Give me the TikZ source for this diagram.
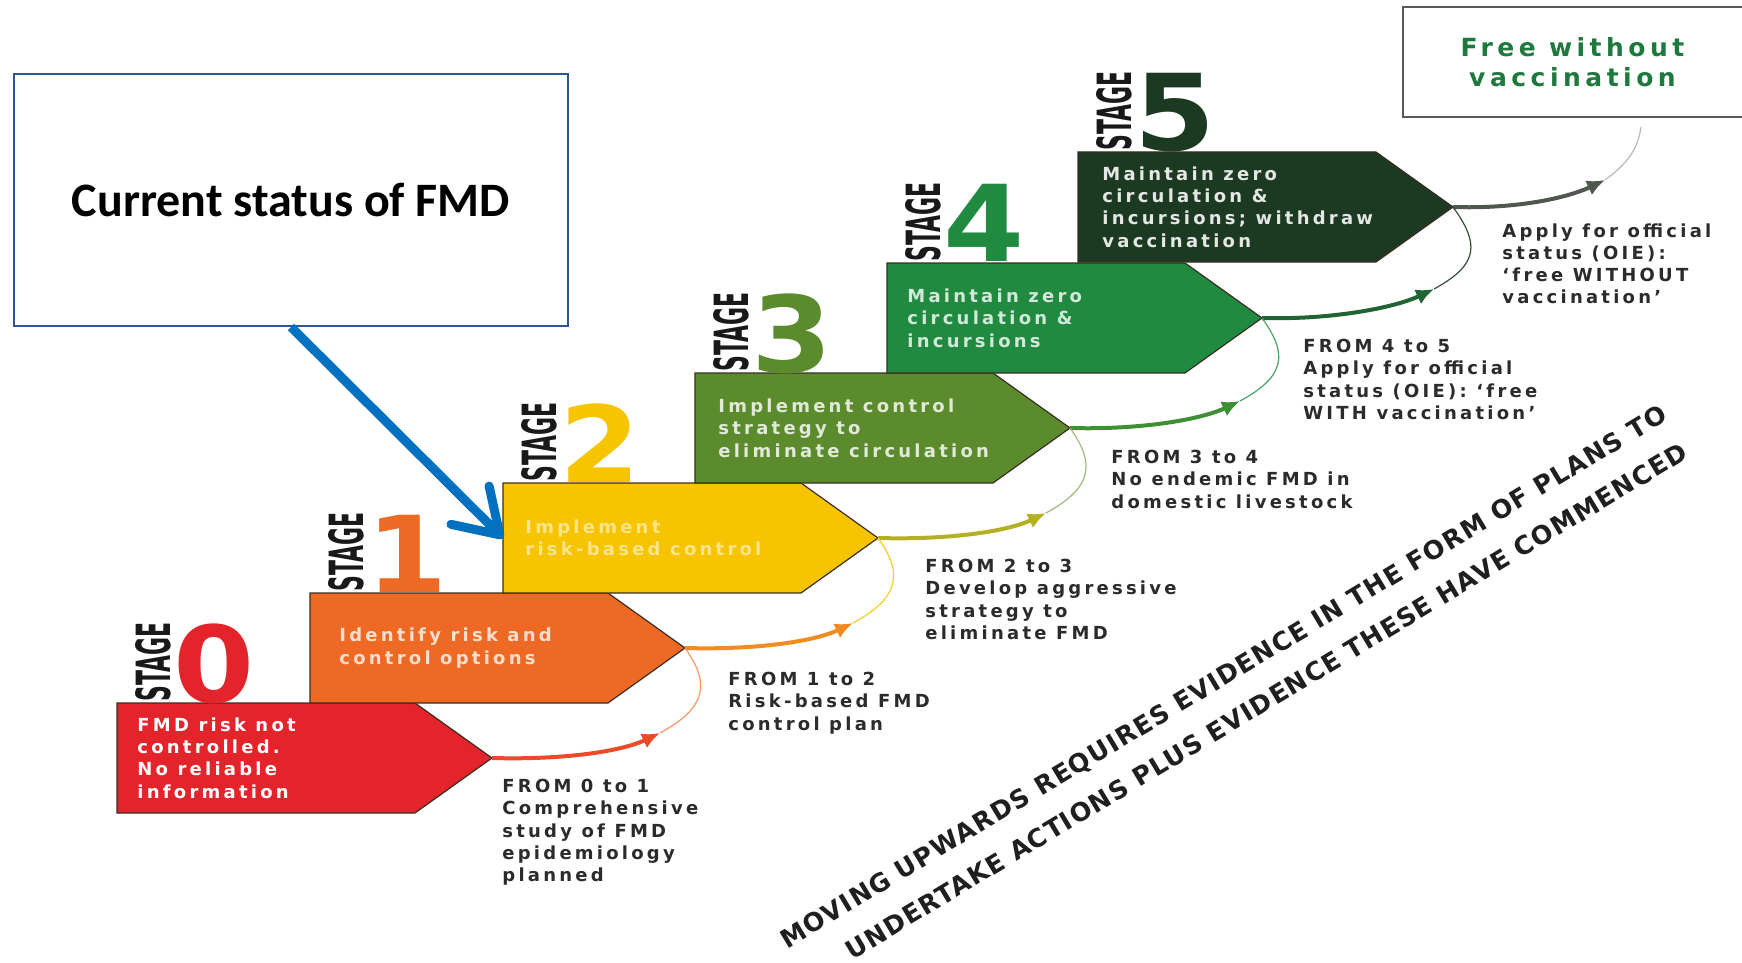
\documentclass[tikz,border=0pt]{standalone}
\usepackage{fontspec}
\usepackage{graphicx}
\setmainfont{DejaVu Sans}
\newfontfamily\stepfont[LetterSpace=18]{DejaVu Sans}
\newfontfamily\movefont[LetterSpace=5]{DejaVu Sans}
\newfontfamily\calibrifont{Carlito}
\usepackage{tikz}
\usetikzlibrary{arrows.meta,calc}
\definecolor{stzero}{HTML}{E3252B}
\definecolor{stone}{HTML}{EE6A24}
\definecolor{sttwo}{HTML}{F6C400}
\definecolor{stthree}{HTML}{5B8B2C}
\definecolor{stfour}{HTML}{1F8A40}
\definecolor{stfive}{HTML}{1C3A21}
\definecolor{stepline}{HTML}{3A2E22}
\definecolor{statusblue}{HTML}{2F5597}
\definecolor{arrowblue}{HTML}{0070C0}
\definecolor{freegreen}{HTML}{1E7A3C}
\definecolor{fromgray}{HTML}{2B2B2B}
\definecolor{flowa}{HTML}{EA4A28}
\definecolor{flowb}{HTML}{F08C20}
\definecolor{flowc}{HTML}{B4B024}
\definecolor{flowd}{HTML}{3F8F35}
\definecolor{flowe}{HTML}{1F6432}
\definecolor{flowf}{HTML}{4E584C}
\newcommand{\stagestep}[3]{%
  \filldraw[fill=#3,draw=stepline,line width=0.6pt] (#1) -- ++(298,0) -- ++(77,55) -- ++(-77,55) -- ++(-298,0) -- cycle;
  \coordinate (#2) at ($(#1)+(375,55)$);}

\begin{document}
\begin{tikzpicture}[x=0.5pt,y=-0.5pt,
  steptext/.style={anchor=west,align=left,inner sep=0pt,font=\stepfont\bfseries\fontsize{9}{11.15}\selectfont},
  fromtext/.style={anchor=north west,align=left,inner sep=0pt,text=fromgray,font=\stepfont\bfseries\fontsize{9}{11.1}\selectfont},
  stagetag/.style={rotate=90,anchor=south west,inner sep=0pt,text=black!90,font=\bfseries},
  stagenum/.style={anchor=base west,inner sep=0pt,font=\bfseries\fontsize{53}{53}\selectfont},
  stepflow/.style={line width=2pt,-{Latex[length=9pt,width=8pt]}},
  thinflow/.style={line width=0.6pt},
  movetext/.style={rotate=31,inner sep=0pt,text=black!88,font=\movefont\bfseries\fontsize{12.7}{15}\selectfont},
  statusbox/.style={draw=statusblue,line width=1pt,minimum width=277pt,minimum height=126pt,font=\calibrifont\bfseries\fontsize{24}{28}\selectfont},
  freebox/.style={minimum width=169.5pt,minimum height=55pt,inner sep=0pt,align=center,text=freegreen,font=\stepfont\bfseries\fontsize{12.5}{15}\selectfont},
  bluearrow/.style={draw=arrowblue,line width=4.5pt,-{Straight Barb[length=21pt,width=27pt,round]}}]
\useasboundingbox (0,0) rectangle (1742,963);
\fill[white] (0,0) rectangle (1742,963);

\coordinate (c0) at (117,703);
\coordinate (c1) at (310,593);
\coordinate (c2) at (503,483);
\coordinate (c3) at (695,373);
\coordinate (c4) at (887,263);
\coordinate (c5) at (1078,152);
\stagestep{c0}{tip0}{stzero}
\stagestep{c1}{tip1}{stone}
\stagestep{c2}{tip2}{sttwo}
\stagestep{c3}{tip3}{stthree}
\stagestep{c4}{tip4}{stfour}
\stagestep{c5}{tip5}{stfive}

\node[steptext,text=white] (txt0) at ($(c0)+(20,55)$) {FMD risk not\\controlled.\\No reliable\\information};
\node[steptext,text=white!78!stone] (txt1) at ($(c1)+(29,55)$) {Identify risk and\\control options};
\node[steptext,text=white!55!sttwo] (txt2) at ($(c2)+(22,55)$) {Implement\\risk-based control};
\node[steptext,text=white!82!stthree] (txt3) at ($(c3)+(23,55)$) {Implement control\\strategy to\\eliminate circulation};
\node[steptext,text=white!80!stfour] (txt4) at ($(c4)+(20,55)$) {Maintain zero\\circulation \&\\incursions};
\node[steptext,text=white!88!stfive] (txt5) at ($(c5)+(24,55)$) {Maintain zero\\circulation \&\\incursions; withdraw\\vaccination};

\node[stagetag] (tag0) at ($(c0)+(55,-1)$) {\resizebox{39.5pt}{17.5pt}{STAGE}};
\node[stagetag] (tag1) at ($(c1)+(55,-1)$) {\resizebox{39.5pt}{17.5pt}{STAGE}};
\node[stagetag] (tag2) at ($(c2)+(55,-1)$) {\resizebox{39.5pt}{17.5pt}{STAGE}};
\node[stagetag] (tag3) at ($(c3)+(55,-1)$) {\resizebox{39.5pt}{17.5pt}{STAGE}};
\node[stagetag] (tag4) at ($(c4)+(55,-1)$) {\resizebox{39.5pt}{17.5pt}{STAGE}};
\node[stagetag] (tag5) at ($(c5)+(55,-1)$) {\resizebox{39.5pt}{17.5pt}{STAGE}};
\node[stagenum,text=stzero] (num0) at ($(c0)+(56,-1)$) {\scalebox{1.1}[1]{0}};
\node[stagenum,text=stone] (num1) at ($(c1)+(56,-1)$) {\scalebox{1.1}[1]{1}};
\node[stagenum,text=sttwo] (num2) at ($(c2)+(56,-1)$) {\scalebox{1.1}[1]{2}};
\node[stagenum,text=stthree] (num3) at ($(c3)+(56,-1)$) {\scalebox{1.1}[1]{3}};
\node[stagenum,text=stfour] (num4) at ($(c4)+(56,-1)$) {\scalebox{1.1}[1]{4}};
\node[stagenum,text=stfive] (num5) at ($(c5)+(56,-1)$) {\scalebox{1.1}[1]{5}};

\coordinate (head1) at ($(tip0)+(168,-25)$);
\coordinate (head2) at ($(tip1)+(168,-25)$);
\coordinate (head3) at ($(tip2)+(168,-25)$);
\coordinate (head4) at ($(tip3)+(170,-27)$);
\coordinate (head5) at ($(tip4)+(172,-29)$);
\coordinate (head6) at ($(tip5)+(152,-27)$);
\coordinate (freein) at (1641,127);
\draw[stepflow,draw=flowa] (tip0) .. controls +(68,2) and +(-40,19) .. (head1);
\draw[stepflow,draw=flowb] (tip1) .. controls +(68,2) and +(-40,19) .. (head2);
\draw[stepflow,draw=flowc] (tip2) .. controls +(68,2) and +(-40,19) .. (head3);
\draw[stepflow,draw=flowd] (tip3) .. controls +(68,2) and +(-40,19) .. (head4);
\draw[stepflow,draw=flowe] (tip4) .. controls +(68,2) and +(-40,19) .. (head5);
\draw[stepflow,draw=flowf] (tip5) .. controls +(60,2) and +(-40,19) .. (head6);
\draw[thinflow,draw=stone!70] (head1) .. controls +(46,-25) and +(26,36) .. (tip1);
\draw[thinflow,draw=sttwo!85] (head2) .. controls +(46,-25) and +(26,36) .. (tip2);
\draw[thinflow,draw=stthree!60] (head3) .. controls +(46,-25) and +(26,36) .. (tip3);
\draw[thinflow,draw=stfour!80] (head4) .. controls +(46,-25) and +(26,36) .. (tip4);
\draw[thinflow,draw=stfive!90] (head5) .. controls +(46,-25) and +(26,36) .. (tip5);
\draw[thinflow,draw=gray!55] (head6) .. controls +(25,-18) and +(-3,20) .. (freein);

\node[fromtext] (from01) at (502,779) {FROM 0 to 1\\Comprehensive\\study of FMD\\epidemiology\\planned};
\node[fromtext] (from12) at (728,672) {FROM 1 to 2\\Risk-based FMD\\control plan};
\node[fromtext] (from23) at (925,559) {FROM 2 to 3\\Develop aggressive\\strategy to\\eliminate FMD};
\node[fromtext] (from34) at (1111,450) {FROM 3 to 4\\No endemic FMD in\\domestic livestock};
\node[fromtext] (from45) at (1303,339) {FROM 4 to 5\\Apply for official\\status (OIE): ‘free\\WITH vaccination’};
\node[fromtext] (from56) at (1502,223) {Apply for official\\status (OIE):\\‘free WITHOUT\\vaccination’};

\node[movetext] (moveA) at (1224,678) {MOVING UPWARDS REQUIRES EVIDENCE IN THE FORM OF PLANS TO};
\node[movetext] (moveB) at (1266,701) {UNDERTAKE ACTIONS PLUS EVIDENCE THESE HAVE COMMENCED};

\node[statusbox] (status) at (291,200) {Current status of FMD};
\draw[bluearrow] (status.south) -- (c2 |- tip2);

\node[freebox] (free) at (1572.5,62) {Free without\\vaccination};
\draw[black!65,line width=1pt] (free.north east) -- (free.north west) -- (free.south west) -- (free.south east);
\end{tikzpicture}
\end{document}
